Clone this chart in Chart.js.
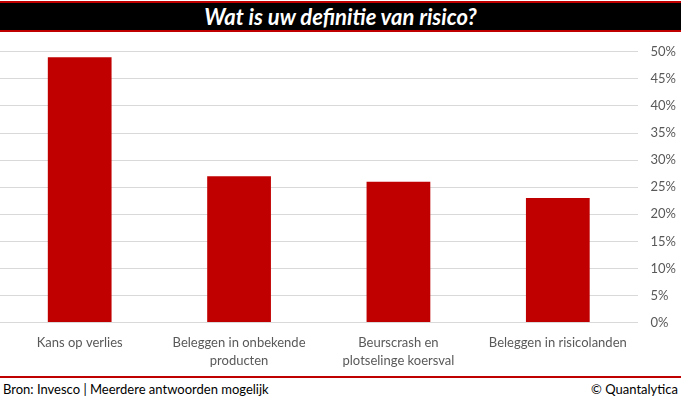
<!DOCTYPE html>
<html>
<head>
<meta charset="utf-8">
<script src="https://cdn.jsdelivr.net/npm/chart.js@4.4.1/dist/chart.umd.min.js"></script>
<style>
  html, body { margin: 0; padding: 0; background: #fff; }
  #wrap { position: relative; width: 681px; height: 399px; overflow: hidden; font-family: Lato, "Open Sans", sans-serif; }
  #title {
    position: absolute; left: 0; top: 1px; width: 681px; height: 27px;
    background: #000; border-top: 2px solid #c00000; border-bottom: 2px solid #c00000;
    color: #fff; font-weight: bold; font-style: italic; font-size: 22px;
    text-align: center; line-height: 27px;
  }
  #chartBox { position: absolute; left: 0; top: 31px; width: 691px; height: 342px; }
  #foot {
    position: absolute; left: 0; top: 376px; width: 681px; height: 23px;
    border-top: 2px solid #c00000; font-size: 13px; color: #000; background: #fff;
  }
  #foot .l { position: absolute; left: 3px; top: 3px; }
  #foot .r { position: absolute; right: 3px; top: 3px; }
</style>
</head>
<body>
<div id="wrap">
  <div id="title">Wat is uw definitie van risico?</div>
  <div id="chartBox"><canvas id="riskChart"></canvas></div>
  <div id="foot"><span class="l">Bron: Invesco | Meerdere antwoorden mogelijk</span><span class="r">© Quantalytica</span></div>
</div>
<script>
// data
const categories = [
  'Kans op verlies',
  ['Beleggen in onbekende', 'producten'],
  ['Beurscrash en', 'plotselinge koersval'],
  'Beleggen in risicolanden'
];
const shares = [49, 27, 26, 23];
const yTicks = [0, 5, 10, 15, 20, 25, 30, 35, 40, 45, 50];

(function(){
  const ctx = document.getElementById('riskChart').getContext('2d');
  new Chart(ctx, {
    type: 'bar',
    data: {
      labels: categories,
      datasets: [{
        data: shares,
        backgroundColor: '#c00000',
        borderWidth: 0,
        categoryPercentage: 1,
        barPercentage: 0.4
      }]
    },
    options: {
      responsive: true,
      maintainAspectRatio: false,
      animation: false,
      layout: { padding: { top: 0, left: 0, right: 2, bottom: 0 } },
      plugins: { legend: { display: false }, tooltip: { enabled: false } },
      scales: {
        x: {
          grid: { display: false },
          border: { display: false },
          ticks: { color: '#595959', font: { family: 'Lato', size: 13, lineHeight: 1.4 }, maxRotation: 0, padding: 3 }
        },
        y: {
          position: 'right',
          min: 0, max: 50,
          afterBuildTicks: function(axis){ axis.ticks = yTicks.map(v => ({ value: v })); },
          grid: { color: '#d9d9d9', drawTicks: false },
          border: { display: false },
          ticks: {
            color: '#595959', font: { family: 'Lato', size: 13 }, padding: 13,
            crossAlign: 'near',
            callback: function(v){ return v + '%'; }
          }
        }
      }
    }
  });
})();
</script>
</body>
</html>
